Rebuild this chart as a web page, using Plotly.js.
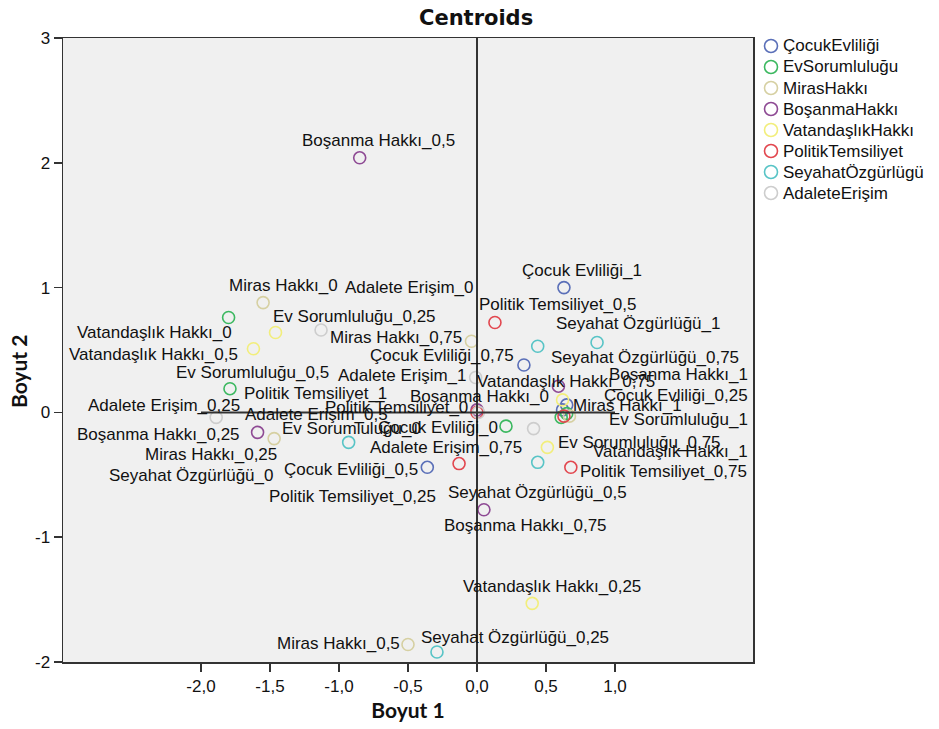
<!DOCTYPE html>
<html>
<head>
<meta charset="utf-8">
<script src="https://cdn.plot.ly/plotly-3.0.1.min.js"></script>
<style>html,body{margin:0;padding:0;background:#fff;}#chart{width:939px;height:729px;}</style>
</head>
<body>
<div id="chart"></div>
<script>
// ---- data ----
const categories = ["0", "0,25", "0,5", "0,75", "1"];
const labelNames = ["Çocuk Evliliği", "Ev Sorumluluğu", "Miras Hakkı", "Boşanma Hakkı",
  "Vatandaşlık Hakkı", "Politik Temsiliyet", "Seyahat Özgürlüğü", "Adalete Erişim"];
const legendNames = ["ÇocukEvliliği", "EvSorumluluğu", "MirasHakkı", "BoşanmaHakkı",
  "VatandaşlıkHakkı", "PolitikTemsiliyet", "SeyahatÖzgürlügü", "AdaleteErişim"];

const cocukX = [0.62, 0.65, -0.36, 0.34, 0.63];
const cocukY = [0.02, 0.06, -0.44, 0.38, 1.00];
const evX = [0.21, -1.80, -1.79, 0.61, 0.65];
const evY = [-0.11, 0.76, 0.19, -0.04, -0.01];
const mirasX = [-1.55, -1.47, -0.50, -0.04, 0.67];
const mirasY = [0.88, -0.21, -1.86, 0.57, -0.03];
const bosanmaX = [0.00, -1.59, -0.85, 0.05, 0.59];
const bosanmaY = [0.02, -0.16, 2.04, -0.78, 0.21];
const vatandaslikX = [-1.46, 0.40, -1.62, 0.62, 0.51];
const vatandaslikY = [0.64, -1.53, 0.51, 0.10, -0.28];
const politikX = [0.00, -0.13, 0.13, 0.68, 0.63];
const politikY = [0.00, -0.41, 0.72, -0.44, -0.03];
const seyahatX = [-0.93, -0.29, 0.44, 0.44, 0.87];
const seyahatY = [-0.24, -1.92, -0.40, 0.53, 0.56];
const adaletX = [-1.13, -1.89, 0.01, 0.41, -0.01];
const adaletY = [0.66, -0.04, 0.00, -0.13, 0.28];

const xTickVals = [-2, -1.5, -1, -0.5, 0, 0.5, 1];
const xTickText = ["-2,0", "-1,5", "-1,0", "-0,5", "0,0", "0,5", "1,0"];
const yTickVals = [-2, -1, 0, 1, 2, 3];
const yTickText = ["-2", "-1", "0", "1", "2", "3"];

// ---- styling ----
const colors = ["#5a6fb8", "#3cb860", "#d6d0a2", "#8e4a94", "#f2ee7c", "#e2474f", "#58c4c6", "#cdcdcd"];
// label offsets in pixels (dx right, dy down) relative to each point
const labelOffsets = [
  [[-125, 18], [109, -9], [-76, 2], [-82, -9], [18, -17]],
  [[-154, 2], [126, -1], [23, -16], [78, 25], [112, 6]],
  [[20, -17], [-63, 16], [-70, -1], [-75, -4], [58, -11]],
  [[2, -13], [-99, 2], [19, -17], [42, 16], [120, -12]],
  [[-121, 0], [20, -17], [-100, 6], [3, -18], [123, 4]],
  [[-81, -5], [-107, 33], [63, -18], [93, 4], [-248, -23]],
  [[-158, 33], [78, -15], [0, 30], [107, 11], [41, -19]],
  [[88, -43], [-52, -12], [-162, 2], [-88, 19], [-73, -2]]
];

const xs = [cocukX, evX, mirasX, bosanmaX, vatandaslikX, politikX, seyahatX, adaletX];
const ys = [cocukY, evY, mirasY, bosanmaY, vatandaslikY, politikY, seyahatY, adaletY];

const M = {l: 63, r: 186, t: 38, b: 67};
const W = 939, H = 729;
const PW = W - M.l - M.r, PH = H - M.t - M.b;

const textFont = {family: "Liberation Sans, Arial, sans-serif", size: 17, color: "#111"};

const traces = [];
const annotations = [];
const shapes = [
  {type: "line", xref: "x", yref: "y", x0: 0, x1: 0, y0: -2, y1: 3, line: {color: "#333", width: 2}},
  {type: "line", xref: "x", yref: "y", x0: -2, x1: 1, y0: 0, y1: 0, line: {color: "#333", width: 2}}
];
for (let s = 0; s < xs.length; s++) {
  traces.push({
    type: "scatter", mode: "markers", name: legendNames[s], showlegend: false,
    x: xs[s], y: ys[s],
    text: categories.map(c => labelNames[s] + "_" + c),
    hoverinfo: "text",
    marker: {symbol: "circle-open", size: 12, color: colors[s], line: {width: 1.6, color: colors[s]}}
  });
  for (let k = 0; k < categories.length; k++) {
    annotations.push({
      x: xs[s][k], y: ys[s][k], xref: "x", yref: "y",
      text: labelNames[s] + "_" + categories[k],
      showarrow: false, xanchor: "center", yanchor: "middle",
      xshift: labelOffsets[s][k][0], yshift: -labelOffsets[s][k][1],
      font: textFont
    });
  }
  // legend entry (drawn as symbol + text beside the plot)
  const ly = 46 + 21 * s;
  const yp = (H - M.b - ly) / PH;
  shapes.push({
    type: "circle", xref: "paper", yref: "paper", xsizemode: "pixel", ysizemode: "pixel",
    xanchor: (771 - M.l) / PW, yanchor: yp, x0: -6.5, x1: 6.5, y0: -6.5, y1: 6.5,
    line: {color: colors[s], width: 1.6}, fillcolor: "rgba(0,0,0,0)"
  });
  annotations.push({
    xref: "paper", yref: "paper", x: (781 - M.l) / PW, y: yp,
    xanchor: "left", yanchor: "middle", showarrow: false,
    text: legendNames[s], font: textFont
  });
}

annotations.push({
  xref: "paper", yref: "paper", x: (18 - M.l) / PW, y: (H - M.b - 372) / PH,
  xanchor: "center", yanchor: "middle", showarrow: false, textangle: -90,
  text: "<b>Boyut 2</b>", font: {family: "Lato, sans-serif", size: 21, color: "#111"}
});

const layout = {
  width: W, height: H,
  margin: M,
  paper_bgcolor: "#ffffff",
  plot_bgcolor: "#f0f0f0",
  showlegend: false,
  title: {
    text: "<b>Centroids</b>",
    font: {family: "DejaVu Sans, sans-serif", size: 21, color: "#111"},
    x: 0.507, xref: "container", xanchor: "center",
    y: 1 - 18 / 729, yref: "container", yanchor: "middle"
  },
  xaxis: {
    range: [-3, 2], tickvals: xTickVals, ticktext: xTickText,
    ticks: "outside", ticklen: 8, tickwidth: 1.5, tickcolor: "#333",
    showline: true, mirror: true, linecolor: "#333", linewidth: 1.5,
    showgrid: false, zeroline: false,
    tickfont: {family: "Liberation Sans, Arial, sans-serif", size: 17, color: "#111"},
    title: {text: "<b>Boyut 1</b>", font: {family: "Lato, sans-serif", size: 21, color: "#111"}, standoff: 8}
  },
  yaxis: {
    range: [-2, 3], tickvals: yTickVals, ticktext: yTickText,
    ticks: "outside", ticklen: 8, tickwidth: 1.5, tickcolor: "#333",
    showline: true, mirror: true, linecolor: "#333", linewidth: 1.5,
    showgrid: false, zeroline: false,
    tickfont: {family: "Liberation Sans, Arial, sans-serif", size: 17, color: "#111"}
  },
  shapes: shapes,
  annotations: annotations
};

Plotly.newPlot("chart", traces, layout, {displayModeBar: false, staticPlot: true});
</script>
</body>
</html>
